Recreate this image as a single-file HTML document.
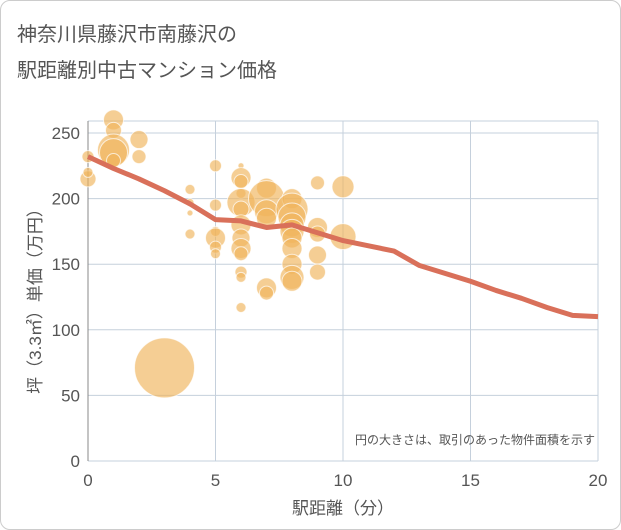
<!DOCTYPE html>
<html><head><meta charset="utf-8"><style>
body{margin:0;background:#fff;font-family:"Liberation Sans","Noto Sans CJK JP",sans-serif}
#wrap{position:relative;width:619px;height:528px;border:1px solid #ccc;border-radius:10px;overflow:hidden}
</style></head><body>
<div id="wrap">
<svg id="chart" width="619" height="528"></svg>
</div>
<script>
const xTicks=[0,5,10,15,20];
const yTicks=[0,50,100,150,200,250];
const lineX=[0,1,2,3,4,5,6,7,8,9,10,11,12,13,14,15,16,17,18,19,20];
const lineY=[232,223,215,206,196,184,183,178,180,174,168,164,160,149,143,137,130,124,117,111,110];
const bubX=[0,0,0,1,1,1,1,1,2,2,3,4,4,4,4,5,5,5,5,5,5,6,6,6,6,6,6,6,6,6,6,6,6,6,7,7,7,7,7,7,8,8,8,8,8,8,8,8,8,8,9,9,9,9,9,10,10];
const bubY=[232,215,220,260,252,237,235,229,245,232,71,207,197,189,173,225,195,175,170,163,158,225,216,213,204,197,192,180,170,162,158,144,140,117,208,200,190,185,132,128,200,192,186,180,175,170,162,150,140,137,212,178,173,157,144,209,171];
const bubR=[6,8,5,10,8,16,14,7,9,7,30,5,4,3,5,6,6,5,10,6,5,3,10,7,5,14,8,10,9,10,7,6,5,5,10,18,12,10,10,7,10,16,14,12,12,10,10,10,12,10,7,10,8,9,8,11,13];
const NS="http://www.w3.org/2000/svg";
const svg=document.getElementById('chart');
const X0=87,X1=597,Y0=460,Y1=132;
const sx=v=>X0+(v-0)/20*(X1-X0);
const sy=v=>Y0-v/250*(Y0-Y1);
function mk(t,a){const e=document.createElementNS(NS,t);for(const k in a)e.setAttribute(k,a[k]);svg.appendChild(e);return e;}
const t1=mk('text',{x:16,y:40,'font-size':20,fill:'#555'});t1.textContent='神奈川県藤沢市南藤沢の';


const t2=mk('text',{x:16,y:76,'font-size':20,fill:'#555'});t2.textContent='駅距離別中古マンション価格';


xTicks.forEach(v=>{
 const l=mk('line',{x1:sx(v),x2:sx(v),y1:Y1-12,y2:Y0,stroke:'#c5d0dc','stroke-width':1});
 
 
 const t=mk('text',{x:sx(v),y:Y0+25,'font-size':17,fill:'#555','text-anchor':'middle'});t.textContent=v;
 
 
});
yTicks.forEach(v=>{
 const l=mk('line',{x1:X0,x2:X1,y1:sy(v),y2:sy(v),stroke:'#c5d0dc','stroke-width':1});
 
 
 const t=mk('text',{x:X0-8,y:sy(v)+6,'font-size':17,fill:'#555','text-anchor':'end'});t.textContent=v;
 
 
});
const topBorder=mk('line',{x1:X0,x2:X1,y1:Y1-12,y2:Y1-12,stroke:'#c5d0dc'});


const ax=mk('line',{x1:X0,x2:X0,y1:Y1-12,y2:Y0,stroke:'#888'});


for(let i=0;i<bubX.length;i++){
 const c=mk('circle',{cx:sx(bubX[i]),cy:sy(bubY[i]),r:bubR[i],fill:'rgba(240,180,90,0.65)',stroke:'rgba(255,255,255,0.7)','stroke-width':1});
 
 
}
const p=mk('polyline',{points:lineX.map((v,i)=>sx(v)+','+sy(lineY[i])).join(' '),fill:'none',stroke:'#d9705a','stroke-width':5,'stroke-linejoin':'round'});


const xt=mk('text',{x:342,y:513,'font-size':17,fill:'#555','text-anchor':'middle'});xt.textContent='駅距離（分）';


const yt=mk('text',{x:0,y:0,'font-size':17,fill:'#555','text-anchor':'middle',transform:'translate(40,296) rotate(-90)'});yt.textContent='坪（3.3㎡）単価（万円）';


const nt=mk('text',{x:594,y:443,'font-size':12,fill:'#555','text-anchor':'end'});nt.textContent='円の大きさは、取引のあった物件面積を示す';


</script>
</body></html>
